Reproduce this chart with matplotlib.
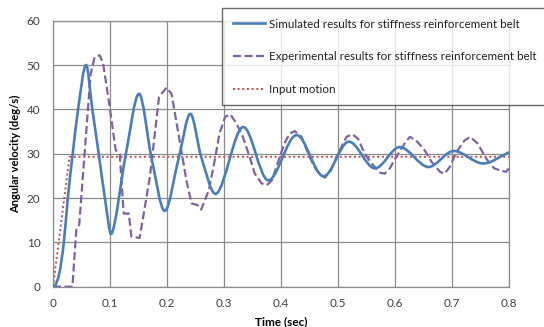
import numpy as np
import matplotlib
matplotlib.use("Agg")
import matplotlib.pyplot as plt
from matplotlib.path import Path
from matplotlib.patches import PathPatch
from matplotlib.lines import Line2D

plt.rcParams['font.family'] = ['Lato', 'DejaVu Sans']

# ---- data ----
sim_t = [0, 0.003, 0.011, 0.019, 0.026, 0.034, 0.044, 0.058, 0.069, 0.081, 0.091, 0.103,
         0.127, 0.151, 0.1725, 0.196, 0.221, 0.241, 0.260, 0.287, 0.333, 0.377, 0.427,
         0.474, 0.518, 0.564, 0.608, 0.658, 0.702, 0.754, 0.8]
sim_v = [0, 0, 3, 10, 20, 29.3, 40, 50, 40, 29.3, 20, 12,
         29.3, 43.5, 29.3, 17.1, 29.3, 39.0, 29.3, 21.0, 36.0, 24.0, 34.2,
         24.9, 32.7, 26.7, 31.5, 27.0, 30.6, 27.8, 30.3]

exp_t = [0.0, 0.034, 0.041, 0.046, 0.066, 0.073, 0.082, 0.088, 0.0995, 0.11, 0.117, 0.124,
         0.133, 0.1375, 0.152, 0.170, 0.186, 0.199, 0.208, 0.225, 0.234, 0.243, 0.254,
         0.260, 0.2735, 0.283, 0.292, 0.302, 0.311, 0.322, 0.333, 0.345, 0.354, 0.366,
         0.375, 0.384, 0.395, 0.406, 0.415, 0.424, 0.436, 0.450, 0.462, 0.477, 0.488,
         0.5, 0.515, 0.525, 0.535, 0.547, 0.559, 0.574, 0.582, 0.591, 0.602, 0.617,
         0.626, 0.637, 0.652, 0.664, 0.679, 0.687, 0.696, 0.708, 0.722, 0.732, 0.745,
         0.760, 0.774, 0.783, 0.795, 0.8]
exp_v = [0, 0, 13, 14, 48, 51.8, 52.2, 50.3, 40.5, 30.8, 30, 16.5,
         16.5, 11.3, 11, 24.8, 42.8, 44.9, 43.5, 30.8, 24, 18.8, 18.4,
         17.4, 21.8, 28, 34.5, 38.3, 38.9, 36.8, 33.8, 29.3, 25.5, 23.3,
         22.9, 24, 28.2, 32.3, 34.5, 35.1, 33.8, 29.3, 26.3, 24.6, 26.3,
         30, 33.8, 34.4, 33.4, 30, 27.8, 25.7, 25.5, 26.7, 29.3, 32.3,
         33.8, 33, 30.8, 28.2, 25.9, 25.5, 27, 30.4, 33, 33.8, 32.3,
         28.9, 26.7, 26.3, 25.9, 26.7]

inp_t = [0, 0.029, 0.8]
inp_v = [0, 29.3, 29.3]

labels = ["Simulated results for stiffness reinforcement belt",
          "Experimental results for stiffness reinforcement belt",
          "Input motion"]
xticks = [0, 0.1, 0.2, 0.3, 0.4, 0.5, 0.6, 0.7, 0.8]
xtick_labels = ["0", "0.1", "0.2", "0.3", "0.4", "0.5", "0.6", "0.7", "0.8"]
yticks = [0, 10, 20, 30, 40, 50, 60]

c_sim = "#4A7EBB"
c_exp = "#7F63A1"
c_inp = "#C0504D"


def smooth_path(t, v):
    """Smoothed-line rendering (like a spreadsheet 'smoothed line')."""
    t = np.asarray(t, float)
    v = np.asarray(v, float)
    n = len(t)
    m = np.zeros(n)
    for i in range(n):
        a = max(i - 1, 0)
        b = min(i + 1, n - 1)
        m[i] = (v[b] - v[a]) / (t[b] - t[a])
    verts = [(t[0], v[0])]
    codes = [Path.MOVETO]
    for i in range(n - 1):
        h = t[i + 1] - t[i]
        verts += [(t[i] + h / 3, v[i] + m[i] * h / 3),
                  (t[i + 1] - h / 3, v[i + 1] - m[i + 1] * h / 3),
                  (t[i + 1], v[i + 1])]
        codes += [Path.CURVE4] * 3
    return Path(verts, codes)


fig = plt.figure(figsize=(5.44, 3.27), dpi=100)
ax = fig.add_axes([53 / 544, 1 - 286.7 / 327, (509 - 53) / 544, (286.7 - 20.7) / 327])

ax.add_patch(PathPatch(smooth_path(sim_t, sim_v), fill=False, edgecolor=c_sim,
                       linewidth=1.9, capstyle='round', joinstyle='round', zorder=4))
ax.plot(exp_t, exp_v, color=c_exp, linewidth=1.6, dashes=(3.6, 1.6), zorder=3)
ax.plot(inp_t, inp_v, color=c_inp, linewidth=1.4, linestyle=(0, (1, 1.4)), zorder=2)

ax.set_xlim(0, 0.8)
ax.set_ylim(0, 60)
ax.set_xticks(xticks)
ax.set_xticklabels(xtick_labels)
ax.set_yticks(yticks)
ax.grid(True, color="#8C8C8C", linewidth=0.9)
ax.set_axisbelow(True)
for s in ax.spines.values():
    s.set_color("#8C8C8C")
    s.set_linewidth(0.9)
ax.tick_params(length=0, labelsize=8.5, labelcolor="#404040")
ax.tick_params(axis='y', pad=9)
ax.tick_params(axis='x', pad=8)

ax.set_xlabel("Time (sec)", fontsize=8.5, fontweight='bold', labelpad=5)
ax.set_ylabel("Angular velocity (deg/s)", fontsize=8, fontweight='bold', labelpad=4)

handles = [Line2D([], [], color=c_sim, linewidth=1.9),
           Line2D([], [], color=c_exp, linewidth=1.6, dashes=(3.6, 1.6)),
           Line2D([], [], color=c_inp, linewidth=1.4, linestyle=(0, (1, 1.4)))]
leg = fig.legend(handles, labels, loc='upper left',
                 bbox_to_anchor=(222 / 544, 1 - 8 / 327), frameon=True,
                 fancybox=False, fontsize=8.4, handlelength=2.8, handletextpad=0.3,
                 labelspacing=1.85, borderpad=0.9, borderaxespad=0)
leg.get_frame().set_edgecolor("#404040")
leg.get_frame().set_linewidth(1.0)
for txt in leg.get_texts():
    txt.set_color("#222222")

fig.savefig("out.png", dpi=100)
